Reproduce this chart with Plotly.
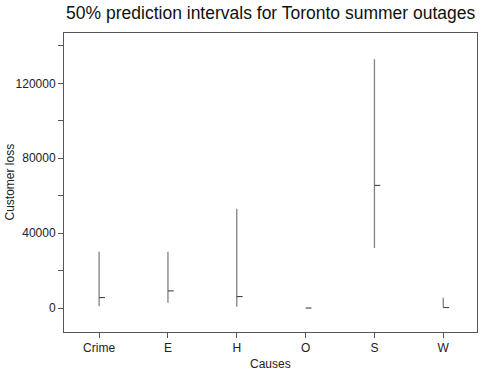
import plotly.graph_objects as go

causes = ["Crime", "E", "H", "O", "S", "W"]
lower = [960, 2770, 640, 0, 32100, 270]
upper = [30100, 30100, 53000, 0, 132900, 5440]
median = [5600, 9170, 6130, 0, 65500, 270]

y_tickvals = [0, 20000, 40000, 60000, 80000, 100000, 120000, 140000]
y_ticktext = ["0", "", "40000", "", "80000", "", "120000", ""]

xpos = list(range(1, len(causes) + 1))
tick_w = 0.085

vx, vy, mx, my = [], [], [], []
for i, x in enumerate(xpos):
    vx += [x, x, None]
    vy += [lower[i], upper[i], None]
    mx += [x, x + tick_w, None]
    my += [median[i], median[i], None]

fig = go.Figure()
fig.add_trace(go.Scatter(x=vx, y=vy, mode="lines",
                         line=dict(color="#808080", width=1.3),
                         hoverinfo="skip", showlegend=False))
fig.add_trace(go.Scatter(x=mx, y=my, mode="lines",
                         line=dict(color="#444444", width=1.1),
                         hoverinfo="skip", showlegend=False))

font_family = "Liberation Sans, Arial, sans-serif"
fig.update_layout(
    width=480, height=372,
    margin=dict(l=64, r=3, t=33, b=40, autoexpand=False),
    paper_bgcolor="white", plot_bgcolor="white",
    font=dict(family=font_family, size=12, color="#222222"),
    title=dict(text="50% prediction intervals for Toronto summer outages",
               x=0.564, xanchor="center", y=0.965, yanchor="middle",
               font=dict(size=17.5, color="#111111", family=font_family)),
    xaxis=dict(range=[0.49, 6.49], tickvals=xpos, ticktext=causes,
               showgrid=False, zeroline=False, showline=True, mirror=True,
               linecolor="#555555", linewidth=1, ticks="outside", ticklen=5,
               tickcolor="#555555", automargin=False),
    yaxis=dict(range=[-12800, 146900], tickvals=y_tickvals, ticktext=y_ticktext,
               showgrid=False, zeroline=False, showline=True, mirror=True,
               linecolor="#555555", linewidth=1, ticks="outside", ticklen=5,
               tickcolor="#555555", automargin=False),
    annotations=[
        dict(text="Causes", xref="paper", yref="paper", x=0.5, y=0,
             xanchor="center", yanchor="middle", yshift=-32, showarrow=False,
             font=dict(size=12, color="#222222")),
        dict(text="Customer loss", xref="paper", yref="paper", x=0, y=0.5,
             xanchor="center", yanchor="middle", xshift=-55, textangle=-90,
             showarrow=False, font=dict(size=12, color="#222222")),
    ],
)

fig.write_html("out.html", config={"displayModeBar": False},
               post_script="document.body.style.margin='0';document.body.style.overflow='hidden';")
